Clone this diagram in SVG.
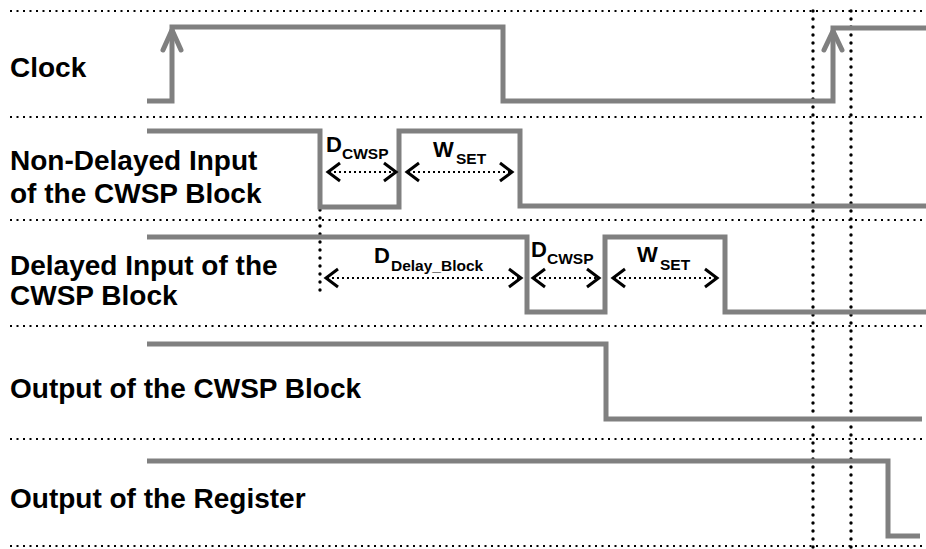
<svg xmlns="http://www.w3.org/2000/svg" width="926" height="549" viewBox="0 0 926 549">
<style>
.lbl{font-family:"Liberation Sans",Arial,sans-serif;font-weight:bold;font-size:28px;fill:#000}
.big{font-family:"Liberation Sans",Arial,sans-serif;font-weight:bold;font-size:22px;fill:#000}
.sub{font-family:"Liberation Sans",Arial,sans-serif;font-weight:bold;font-size:15.5px;fill:#000}
.wave{fill:none;stroke:#808080;stroke-width:5;stroke-linejoin:miter}
.hdot{stroke:#000;stroke-width:2;stroke-dasharray:2 4.5;fill:none}
.vdot{stroke:#000;stroke-width:3.4;stroke-dasharray:0 8;stroke-linecap:round;fill:none}
.adot{stroke:#000;stroke-width:2;stroke-dasharray:2 3;fill:none}
.chev{stroke:#000;stroke-width:3;fill:none;stroke-linecap:butt;stroke-linejoin:miter}
.gchev{stroke:#808080;stroke-width:5;fill:none;stroke-linecap:round;stroke-linejoin:round}
</style>
<rect width="926" height="549" fill="#fff"/>
<g id="grid">
<line class="hdot" x1="10" y1="11" x2="926" y2="11"/>
<line class="hdot" x1="10" y1="117" x2="926" y2="117"/>
<line class="hdot" x1="10" y1="220" x2="926" y2="220"/>
<line class="hdot" x1="10" y1="326" x2="926" y2="326"/>
<line class="hdot" x1="10" y1="439" x2="926" y2="439"/>
<line class="hdot" x1="10" y1="546" x2="926" y2="546"/>
<line class="vdot" x1="813" y1="11" x2="813" y2="549"/>
<line class="vdot" x1="851" y1="11" x2="851" y2="549"/>
<line class="vdot" x1="320" y1="210" x2="320" y2="292"/>
</g>
<g id="clock">
<text class="lbl" x="10" y="77">Clock</text>
<polyline class="wave" points="147,101 172,101 172,27 503,27 503,101 833,101 833,28 926,28"/>
<polyline class="gchev" points="163,50 172,30 181,50"/>
<polyline class="gchev" points="824,50 833,31 842,50"/>
</g>
<g id="nondelayed">
<text class="lbl" x="10" y="170">Non-Delayed Input</text>
<text class="lbl" x="10" y="203">of the CWSP Block</text>
<polyline class="wave" points="147,131 320,131 320,207 399,207 399,131 520,131 520,206 926,206"/>
</g>
<g id="delayed">
<text class="lbl" x="10" y="275">Delayed Input of the</text>
<text class="lbl" x="10" y="305">CWSP Block</text>
<polyline class="wave" points="147,237 527,237 527,312 605,312 605,237 725,237 725,312 926,312"/>
</g>
<g id="cwspout">
<text class="lbl" x="10" y="398">Output of the CWSP Block</text>
<polyline class="wave" points="147,344 606,344 606,419 922,419"/>
</g>
<g id="register">
<text class="lbl" x="10" y="508">Output of the Register</text>
<polyline class="wave" points="147,461 888,461 888,536 920,536"/>
</g>
<g id="annotations">
<text class="big" x="326" y="152">D</text><text class="sub" x="342" y="159">CWSP</text>
<text class="big" x="433" y="157">W</text><text class="sub" x="456" y="164">SET</text>
<text class="big" x="374" y="263">D</text><text class="sub" x="391" y="271">Delay_Block</text>
<text class="big" x="531" y="257">D</text><text class="sub" x="547" y="264">CWSP</text>
<text class="big" x="637" y="262">W</text><text class="sub" x="660" y="270">SET</text>
</g>
<g id="connectors">
<line class="adot" x1="329" y1="172" x2="395" y2="172"/>
<polyline class="chev" points="340,163 328,172 340,181"/>
<polyline class="chev" points="384,163 396,172 384,181"/>
<line class="adot" x1="408" y1="172" x2="511" y2="172"/>
<polyline class="chev" points="419,163 407,172 419,181"/>
<polyline class="chev" points="500,163 512,172 500,181"/>
<line class="adot" x1="327" y1="278" x2="520" y2="278"/>
<polyline class="chev" points="338,269 326,278 338,287"/>
<polyline class="chev" points="509,269 521,278 509,287"/>
<line class="adot" x1="534" y1="278" x2="598" y2="278"/>
<polyline class="chev" points="545,269 533,278 545,287"/>
<polyline class="chev" points="587,269 599,278 587,287"/>
<line class="adot" x1="614" y1="278" x2="716" y2="278"/>
<polyline class="chev" points="625,269 613,278 625,287"/>
<polyline class="chev" points="705,269 717,278 705,287"/>
</g>
</svg>
